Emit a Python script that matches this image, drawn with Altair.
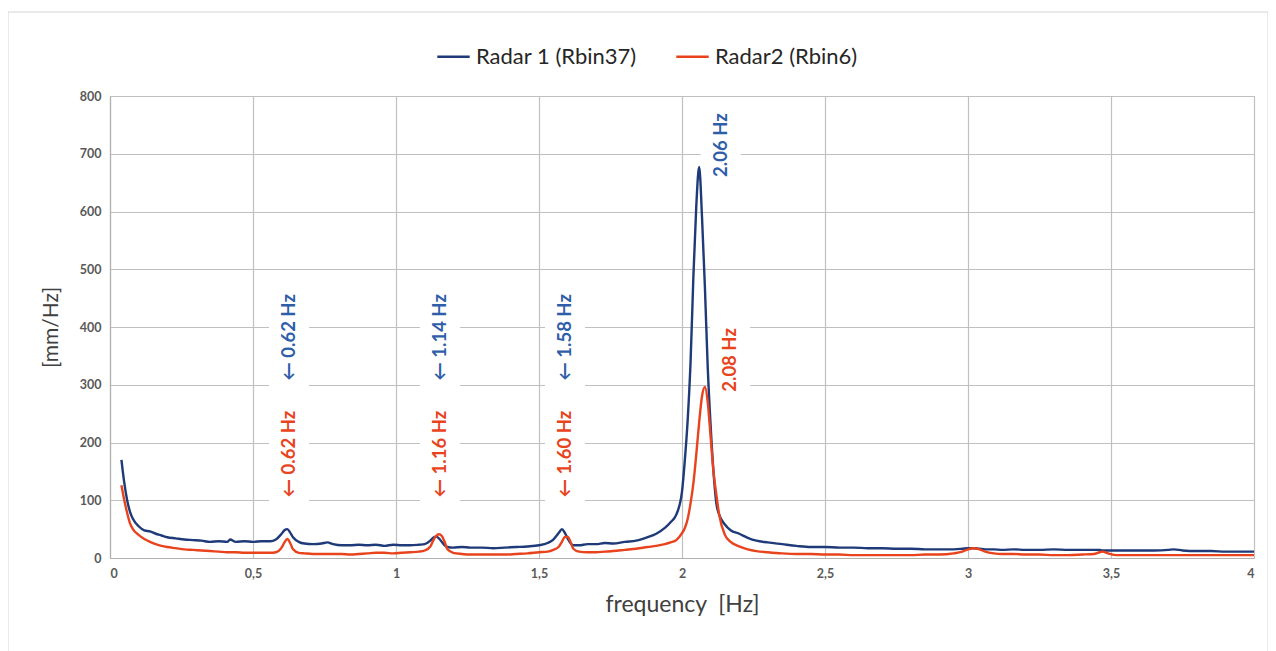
import altair as alt
import pandas as pd

freq = [0.04, 0.05, 0.06, 0.07, 0.08, 0.10, 0.12, 0.14, 0.16, 0.18, 0.20, 0.23, 0.26, 0.29, 0.32,
        0.35, 0.38, 0.41, 0.42, 0.44, 0.47, 0.50, 0.53, 0.56, 0.58, 0.60, 0.61, 0.62, 0.63, 0.64,
        0.66, 0.68, 0.71, 0.74, 0.76, 0.78, 0.81, 0.84, 0.87, 0.90, 0.93, 0.96, 0.99, 1.02, 1.05,
        1.08, 1.10, 1.12, 1.13, 1.14, 1.15, 1.16, 1.17, 1.18, 1.20, 1.23, 1.26, 1.30, 1.34, 1.38,
        1.42, 1.46, 1.50, 1.53, 1.55, 1.57, 1.58, 1.59, 1.60, 1.61, 1.62, 1.64, 1.67, 1.70, 1.73,
        1.76, 1.80, 1.84, 1.88, 1.91, 1.94, 1.96, 1.98, 2.00, 2.01, 2.02, 2.03, 2.04, 2.05, 2.06,
        2.07, 2.08, 2.09, 2.10, 2.11, 2.12, 2.13, 2.15, 2.17, 2.20, 2.23, 2.26, 2.30, 2.35, 2.40,
        2.45, 2.50, 2.55, 2.60, 2.65, 2.70, 2.75, 2.80, 2.85, 2.90, 2.95, 2.98, 3.00, 3.02, 3.04,
        3.06, 3.09, 3.12, 3.16, 3.20, 3.25, 3.30, 3.35, 3.40, 3.44, 3.46, 3.47, 3.49, 3.52, 3.56,
        3.60, 3.65, 3.70, 3.72, 3.75, 3.80, 3.85, 3.90, 3.95, 4.00]

radar1 = [170, 130, 100, 80, 68, 55, 48, 46, 42, 39, 36, 34, 32, 31, 30,
          28, 29, 28, 32, 28, 29, 28, 29, 29, 32, 42, 48, 50, 44, 36,
          28, 25, 24, 25, 27, 24, 22, 22, 23, 22, 23, 21, 23, 22, 22,
          23, 24, 30, 35, 37, 34, 28, 22, 19, 18, 19, 18, 18, 17, 18,
          19, 20, 22, 26, 32, 44, 50, 44, 34, 26, 22, 22, 24, 24, 26,
          25, 28, 30, 36, 42, 52, 62, 75, 115, 170, 240, 340, 490, 610, 677,
          590, 470, 330, 230, 150, 95, 75, 58, 48, 42, 35, 30, 27, 24, 21,
          19, 19, 18, 18, 17, 17, 16, 16, 15, 15, 15, 16, 17, 17, 16,
          15, 15, 14, 15, 14, 14, 15, 14, 14, 14, 14, 13, 13, 13, 13,
          13, 13, 14, 15, 13, 12, 12, 11, 11, 11]

radar2 = [126, 100, 78, 60, 50, 40, 33, 28, 24, 21, 19, 17, 15, 14, 13,
          12, 11, 10, 10, 10, 9, 9, 9, 9, 10, 18, 27, 33, 26, 15,
          9, 8, 7, 7, 7, 7, 7, 6, 7, 8, 9, 9, 8, 9, 10,
          11, 13, 20, 30, 38, 41, 38, 28, 15, 9, 7, 6, 6, 6, 6,
          7, 8, 10, 11, 14, 20, 28, 36, 37, 28, 16, 11, 10, 10, 11,
          12, 14, 16, 19, 21, 24, 27, 31, 43, 52, 68, 95, 130, 180, 235,
          280, 296, 270, 210, 150, 110, 75, 40, 28, 20, 15, 12, 10, 8, 7,
          7, 6, 6, 5, 5, 5, 5, 5, 6, 6, 8, 11, 15, 17, 15,
          11, 8, 7, 7, 6, 6, 5, 5, 6, 7, 10, 11, 8, 5, 5,
          5, 5, 5, 5, 5, 5, 5, 5, 5, 5]

series_names = ["Radar 1 (Rbin37)", "Radar2 (Rbin6)"]
line_colors = ["#1f3a78", "#e8431c"]

x_ticks = [0, 0.5, 1, 1.5, 2, 2.5, 3, 3.5, 4]
y_ticks = [0, 100, 200, 300, 400, 500, 600, 700, 800]

# peak annotations
ann_text = ["← 0.62 Hz", "← 1.14 Hz", "← 1.58 Hz", "2.06 Hz",
            "← 0.62 Hz", "← 1.16 Hz", "← 1.60 Hz", "2.08 Hz"]
ann_freq = [0.626, 1.154, 1.591, 2.135, 0.626, 1.154, 1.591, 2.168]
ann_val = [382, 382, 382, 715, 180, 180, 180, 343]
ann_series = [0, 0, 0, 0, 1, 1, 1, 1]
box_lo = [288, 288, 288, 655, 88, 88, 88, 270]
box_hi = [476, 476, 476, 775, 274, 274, 274, 418]
box_half = 0.07
ann_colors = ["#2e5ea9", "#e8431c"]

FONT = "Lato"

rows = []
for i, f in enumerate(freq):
    rows.append({"freq": f, "value": radar1[i], "series": series_names[0]})
    rows.append({"freq": f, "value": radar2[i], "series": series_names[1]})
df = pd.DataFrame(rows)

ann = pd.DataFrame({
    "freq": ann_freq,
    "value": ann_val,
    "text": ann_text,
    "grp": ann_series,
    "x1": [f - box_half for f in ann_freq],
    "x2": [f + box_half for f in ann_freq],
    "y1": box_lo,
    "y2": box_hi,
})

xscale = alt.Scale(domain=[0, 4], nice=False, zero=False)
yscale = alt.Scale(domain=[0, 800], nice=False)

# light frame around the whole figure
frame = alt.Chart(pd.DataFrame({"k": [0]})).mark_rect(
    fill="white", fillOpacity=0, stroke="#d4d4d4", strokeWidth=1
).encode(
    x=alt.value(-102), x2=alt.value(1158), y=alt.value(-84), y2=alt.value(580)
)

boxes = alt.Chart(ann).mark_rect(color="white").encode(
    x=alt.X("x1:Q", scale=xscale),
    x2="x2:Q",
    y=alt.Y("y1:Q", scale=yscale),
    y2="y2:Q",
)

lines = alt.Chart(df).mark_line(strokeWidth=2.4, interpolate="monotone").encode(
    x=alt.X("freq:Q", scale=xscale,
            axis=alt.Axis(values=x_ticks, title="frequency\u00a0\u00a0[Hz]",
                          labelExpr="replace(format(datum.value, '~g'), '.', ',')")),
    y=alt.Y("value:Q", scale=yscale,
            axis=alt.Axis(values=y_ticks, title="[mm/Hz]")),
    color=alt.Color("series:N",
                    scale=alt.Scale(domain=series_names, range=line_colors),
                    legend=alt.Legend(title=None, orient="none", direction="horizontal",
                                      legendX=326, legendY=-57, symbolType="stroke",
                                      symbolSize=1050, symbolStrokeWidth=2.5,
                                      labelFontSize=22, labelFont=FONT, labelColor="#262626",
                                      labelLimit=400, columnPadding=34, labelOffset=5)),
    order="freq:Q",
)

texts = []
for g in (0, 1):
    texts.append(
        alt.Chart(ann[ann["grp"] == g]).mark_text(
            angle=270, align="center", baseline="middle", fontSize=18.5,
            font=FONT, fontWeight="bold", color=ann_colors[g]
        ).encode(x=alt.X("freq:Q", scale=xscale), y=alt.Y("value:Q", scale=yscale), text="text:N")
    )

chart = alt.layer(frame, boxes, lines, *texts).properties(
    width=1144, height=462,
    background="white",
    autosize=alt.AutoSizeParams(type="none"),
    padding={"left": 102, "top": 88, "right": 14, "bottom": 100},
).configure_axis(
    grid=True, gridColor="#c0c0c0", gridWidth=1.2, domainColor="#b0b0b0", domainWidth=1.2,
    ticks=False, labelFont=FONT, labelFontWeight="bold", labelFontSize=12.5,
    labelColor="#595959", titleFont=FONT, titleFontWeight="normal",
    titleColor="#404040",
).configure_axisX(
    labelPadding=9, titlePadding=14, titleFontSize=23,
).configure_axisY(
    labelPadding=9, titlePadding=18, titleFontSize=21,
).configure_view(
    stroke="#c0c0c0",
)

chart.save("out.html", embed_options={"renderer": "svg", "actions": False})
